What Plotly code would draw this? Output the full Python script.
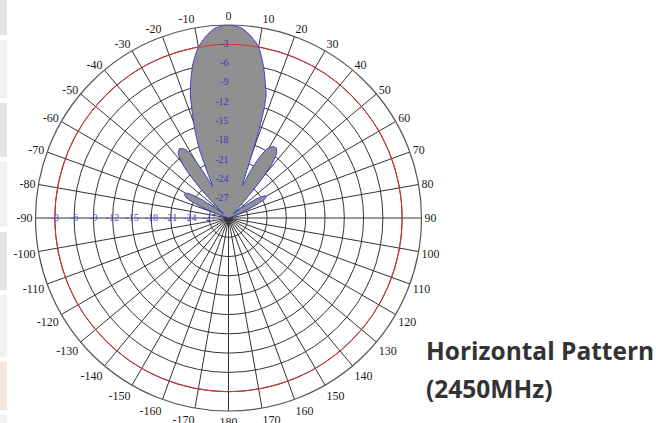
import plotly.graph_objects as go

# Measured horizontal pattern (degrees, dB relative to peak)
pattern_theta = [-180, -150, -120, -90, -78, -71, -68, -65, -62, -59, -56, -53, -50,
                 -47, -44, -41, -38, -35, -32, -30, -28, -26.5, -25, -23, -21, -19.5,
                 -18, -17, -15, -13, -10, -7, -4, 0, 4, 7, 10, 13, 15, 17, 18, 18.8,
                 19.5, 20.5, 22, 23.5, 25, 27, 29, 31.5, 34, 36.5, 39, 41, 43, 46, 50, 53,
                 56, 59, 62, 65, 68, 72, 78, 90, 120, 150, 180]
pattern_db = [-30, -30, -30, -30, -30, -28.5, -25.5, -23, -22.2, -22.5, -24.5, -27.5, -29,
              -28, -24, -19.5, -17.3, -16.8, -17.5, -19.5, -23, -24.5, -22.5, -18.5, -15.5, -13.4,
              -11.2, -9.7, -7.5, -5.4, -3.0, -1.5, -0.4, 0, -0.4, -1.5, -3.0, -5.8, -8.0, -10.0, -12.0, -14.5,
              -17.0, -20.5, -23.5, -24.5, -22.0, -19.5, -17.8, -17.0, -16.8, -17.4, -19.5, -23.0, -26.5, -28.5, -29.0, -27.0,
              -24.5, -23.3, -23.5, -25.5, -28.0, -29.5, -30, -30, -30, -30, -30]

# Axis ticks
angle_ticks = [0, 10, 20, 30, 40, 50, 60, 70, 80, 90, 100, 110, 120, 130, 140, 150, 160, 170,
               180, 190, 200, 210, 220, 230, 240, 250, 260, 270, 280, 290, 300, 310, 320, 330, 340, 350]
angle_labels = ["0", "10", "20", "30", "40", "50", "60", "70", "80", "90", "100", "110", "120",
                "130", "140", "150", "160", "170", "180", "-170", "-160", "-150", "-140", "-130",
                "-120", "-110", "-100", "-90", "-80", "-70", "-60", "-50", "-40", "-30", "-20", "-10"]
radial_ticks = [-27, -24, -21, -18, -15, -12, -9, -6, -3]
radial_labels = ["-27", "-24", "-21", "-18", "-15", "-12", "-9", "-6", "-3"]

# -3 dB reference circle
ref_level = -3
ref_theta = [0, 30, 60, 90, 120, 150, 180, 210, 240, 270, 300, 330, 360]

fig = go.Figure()

fig.add_trace(go.Scatterpolar(
    r=pattern_db, theta=pattern_theta, mode="lines", fill="toself",
    fillcolor="#909090", line=dict(color="#3c3cd0", width=1, shape="spline", smoothing=0.5),
    hoverinfo="skip", showlegend=False))

fig.add_trace(go.Scatterpolar(
    r=[ref_level] * len(ref_theta), theta=ref_theta, mode="lines",
    line=dict(color="#e03030", width=1, shape="spline"),
    hoverinfo="skip", showlegend=False))

# blue dB labels along -90 radial
fig.add_trace(go.Scatterpolar(
    r=radial_ticks, theta=[270] * len(radial_ticks), mode="text",
    text=radial_labels, textposition="middle center",
    textfont=dict(family="Liberation Serif", size=10, color="#4848d8"),
    hoverinfo="skip", showlegend=False))

# blue dB labels along 0 radial
fig.add_trace(go.Scatterpolar(
    r=radial_ticks, theta=[0] * len(radial_ticks), mode="text",
    text=radial_labels, textposition="middle left",
    textfont=dict(family="Liberation Serif", size=10, color="#3a3ab8"),
    hoverinfo="skip", showlegend=False))

W, H = 656, 423
cx, cy, R = 228.5, 218, 193

fig.update_layout(
    width=W, height=H,
    margin=dict(l=0, r=0, t=0, b=0),
    paper_bgcolor="white",
    plot_bgcolor="white",
    showlegend=False,
    polar=dict(
        domain=dict(x=[(cx - R) / W, (cx + R) / W], y=[(H - cy - R) / H, (H - cy + R) / H]),
        bgcolor="white",
        angularaxis=dict(
            rotation=90, direction="clockwise",
            tickmode="array", tickvals=angle_ticks, ticktext=angle_labels,
            tickfont=dict(family="Liberation Serif", size=12, color="#1a1a1a"),
            showline=True, linecolor="#555555", linewidth=1.2,
            gridcolor="#333333", gridwidth=1, ticks="",
        ),
        radialaxis=dict(
            range=[-30, 0], tickmode="array", tickvals=radial_ticks,
            showticklabels=False, ticks="", showline=False,
            gridcolor="#333333", gridwidth=1,
        ),
    ),
)

# page background strip on the left
strip = [(0, 35, "#e3e3e3"), (40, 98, "#f2f2f2"), (103, 157, "#e3e3e3"), (162, 227, "#f2f2f2"),
         (232, 290, "#e3e3e3"), (295, 357, "#f2f2f2"), (362, 410, "#f3e8df"), (415, 423, "#f2f2f2")]
for y0, y1, col in strip:
    fig.add_shape(type="rect", xref="paper", yref="paper", x0=0, x1=7 / W,
                  y0=1 - y1 / H, y1=1 - y0 / H, fillcolor=col, line=dict(width=0), layer="below")

fig.add_annotation(text="<b>Horizontal Pattern</b>", xref="paper", yref="paper",
                   x=424 / W, y=1 - 350 / H, xanchor="left", yanchor="middle", showarrow=False,
                   font=dict(family="Open Sans", size=24.5, color="#333333"))
fig.add_annotation(text="<b>(2450MHz)</b>", xref="paper", yref="paper",
                   x=424 / W, y=1 - 388 / H, xanchor="left", yanchor="middle", showarrow=False,
                   font=dict(family="Open Sans", size=24.5, color="#333333"))

fig.write_html("out.html", config={"displayModeBar": False},
               post_script="document.body.style.margin='0';document.body.style.overflow='hidden';")
